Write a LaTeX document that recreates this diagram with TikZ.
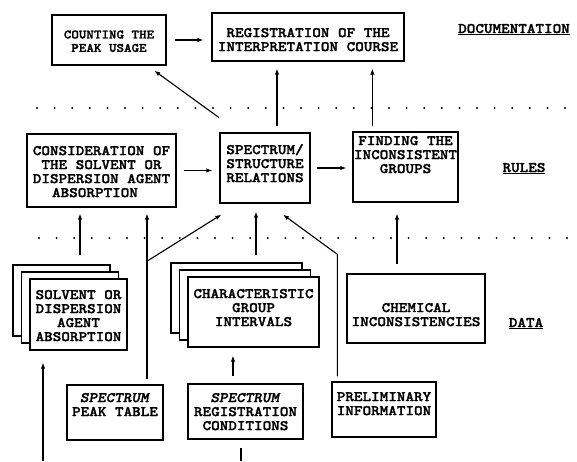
\documentclass[tikz,border=0pt]{standalone}
\usepackage{fontspec}
\usepackage{tikz}
\usetikzlibrary{shadows}
\usetikzlibrary{arrows.meta}
\tikzset{>={Latex[length=6pt,width=4.5pt]}}
\newfontfamily\tw{lmmonolt10-bold}[Extension=.otf,ItalicFont=lmmonolt10-boldoblique,FakeStretch=1.12,FakeBold=1.6]
\newcommand{\boxtext}[4]{\parbox[c][#1][t]{#2}{\centering\vspace*{#3}#4}}

\begin{document}
\begin{tikzpicture}
                [x=1pt,y=-1pt,line width=1.1pt,
                every node/.style={inner sep=0pt,font=\tw\fontsize{14.6}{14}\selectfont},
                blk/.style={draw,line width=1.3pt,fill=white},
                stack/.style={blk,
                  copy shadow={shadow xshift=-17pt,shadow yshift=14pt,line width=1.3pt},
                  copy shadow={shadow xshift=-8.5pt,shadow yshift=7pt,line width=1.3pt}}]
                \useasboundingbox[fill=white] (0,0) rectangle (577,461);

                % dotted separators
                \foreach \i in {0,...,30} {
                  \fill (37+17.6*\i,108) circle (1.1pt);
                  \fill (39+17.6*\i,238) circle (1.1pt);
                }

                % documentation
                \node[blk] (count) at (109,40) {\boxtext{50pt}{114pt}{15.5pt}{\fontsize{12.8}{13.4}\selectfont COUNTING THE\\PEAK USAGE}};
                \node[blk] (regist) at (308,37) {\boxtext{48pt}{192pt}{15pt}{REGISTRATION OF THE\\INTERPRETATION COURSE}};
                \node[anchor=base] (doc) at (514,33) {\underline{DOCUMENTATION}};

                % rules
                \node[blk] (consid) at (101.5,170.5) {\boxtext{73pt}{149pt}{12pt}{CONSIDERATION OF\\THE SOLVENT OR\\DISPERSION AGENT\\ABSORPTION\hspace*{13pt}}};
                \node[blk] (spec) at (265,168) {\boxtext{70pt}{90pt}{11pt}{SPECTRUM/\\STRUCTURE\\RELATIONS}};
                \node[blk] (find) at (405.5,167) {\boxtext{70pt}{105pt}{4pt}{FINDING THE\\INCONSISTENT\\GROUPS}};
                \node[anchor=base] (rules) at (524,172) {\underline{RULES}};

                % data
                \node[stack] (solv) at (78.5,314.5) {\boxtext{71pt}{97pt}{11pt}{SOLVENT OR\\DISPERSION\\AGENT\\ABSORPTION}};
                \node[stack] (chars) at (253.5,312) {\boxtext{70pt}{131pt}{12pt}{CHARACTERISTIC\\GROUP\\INTERVALS}};
                \node[blk] (chem) at (416,308.5) {\boxtext{69pt}{138pt}{29pt}{CHEMICAL\\INCONSISTENCIES}};
                \node[anchor=base] (data) at (526,327) {\underline{DATA}};

                \node[blk] (peak) at (115,412.5) {\boxtext{55pt}{96pt}{8pt}{\textit{SPECTRUM}\\PEAK TABLE}};
                \node[blk] (regcond) at (245.5,411.5) {\boxtext{55pt}{115pt}{9pt}{\textit{SPECTRUM}\\REGISTRATION\\CONDITIONS}};
                \node[blk] (prelim) at (384,409.5) {\boxtext{55pt}{104pt}{10pt}{PRELIMINARY\\INFORMATION}};

                \coordinate (inlet) at (43,461);
                \coordinate (outlet) at (241,461);

                \draw[->,shorten <=8pt,shorten >=8pt] (count.east) -- (count.east -| regist.west);
                \draw[->,shorten <=25pt,shorten >=8.6pt] ([xshift=20pt]spec.north west) -- ([xshift=96pt]count.south west);
                \draw[->,shorten <=6pt,shorten >=7pt] ([xshift=12pt]spec.north) -- ([xshift=12pt]spec.north |- regist.south);
                \draw[->,shorten <=5pt,shorten >=7pt] ([xshift=20pt]find.north west) -- ([xshift=20pt]find.north west |- regist.south);
                \draw[->,shorten <=7pt,shorten >=7pt] (consid.east) -- (consid.east -| spec.west);
                \draw[->,shorten <=6pt,shorten >=6pt] (spec.east) -- (spec.east -| find.west);

                \draw[->,shorten <=23pt,shorten >=6pt] ([xshift=1.5pt]solv.north) -- ([xshift=1.5pt]solv.north |- consid.south);
                \draw[->,shorten <=5pt,shorten >=6pt] ([xshift=32pt]peak.north) -- coordinate[pos=0.697] (pk) ([xshift=32pt]peak.north |- consid.south);
                \draw[->,shorten >=20.7pt] (pk) -- ([xshift=19.5pt]spec.south west);
                \draw[->,shorten <=21pt,shorten >=8pt] ([xshift=2.5pt]chars.north) -- ([xshift=2.5pt]chars.north |- spec.south);
                \draw[->,shorten <=5pt,shorten >=18.6pt] ([xshift=6pt]prelim.north west) -- ++(0,-127) -- ([xshift=3pt]spec.south);
                \draw[->,shorten <=9pt,shorten >=11pt] ([xshift=-19pt]chem.north) -- ([xshift=-19pt]chem.north |- find.south);

                \draw[->,shorten <=7pt,shorten >=8pt] ([xshift=-12.5pt]regcond.north) -- ([xshift=-12.5pt]regcond.north |- chars.south);
                \draw[->,shorten >=12pt] (inlet) -- (inlet |- solv.south);
                \draw[shorten <=8pt] ([xshift=-4.5pt]regcond.south) -- (outlet);
            \end{tikzpicture}
\end{document}
